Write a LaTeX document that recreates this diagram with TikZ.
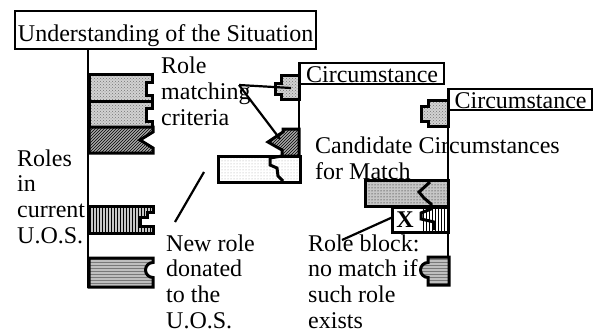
\documentclass[tikz,border=0pt]{standalone}
\usepackage{fontspec}
\setmainfont{Liberation Serif}
\usetikzlibrary{patterns}

\begin{document}
\begin{tikzpicture}[x=1pt,y=-1pt,
  txt/.style={font=\fontsize{24}{25.6}\selectfont, inner sep=0pt},
  lbl/.style={txt, anchor=base west, align=left},
  framebox/.style={txt, draw, line width=2.2pt, anchor=north west},
  spine/.style={line width=2.2pt},
  conn/.style={line width=2.2pt},
  edge/.style={draw, line width=3pt, line join=miter},
  lightdots/.style={edge, preaction={fill=gray!35}, pattern=crosshatch dots, pattern color=gray!90!black},
  sparsedots/.style={edge, preaction={fill=white}, pattern=dots, pattern color=gray!70},
  darkhatch/.style={edge, preaction={fill=gray!70}, pattern=north east lines, pattern color=black},
  vstripes/.style={edge, preaction={fill=gray!45}, pattern=vertical lines, pattern color=black},
  hdashes/.style={edge, preaction={fill=gray!50}, pattern=horizontal lines, pattern color=gray!95!black},
  polka/.style={edge, preaction={fill=gray!45}, pattern=dots, pattern color=black},
]
\useasboundingbox (0,0) rectangle (598,332);

% ---- Understanding of the Situation -------------------------------
\node[framebox, minimum width=301pt, text height=30.5pt, text depth=7.5pt]
  (title) at (14,9.5) {Understanding of the Situation};
\coordinate (spinetop) at (88,48);
\coordinate (spinebot) at (88,288);
\draw[spine] (spinetop) -- (spinebot);

% roles held in the current U.O.S.
\path[lightdots] (89,74) -- (152,74) -- (152,82) -- (146,82) -- (146,95)
  -- (152,95) -- (152,101) -- (89,101) -- cycle;
\path[lightdots] (89,101) -- (152,101) -- (152,108) -- (146,108) -- (146,121)
  -- (152,121) -- (152,127) -- (89,127) -- cycle;
\path[darkhatch] (89,127) -- (153,127) -- (153,132) -- (140,140) -- (153,148)
  -- (153,153) -- (89,153) -- cycle;
\path[vstripes] (89,206) -- (153,206) -- (153,212) -- (147,212) -- (147,217)
  -- (140,217) -- (140,226) -- (153,226) -- (153,233) -- (89,233) -- cycle;
\path[hdashes] (89,258) -- (153,258) -- (153,262.5) arc (270:90:7.5)
  -- (153,287) -- (89,287) -- cycle;

% multi-line labels are placed by the baseline of their last line
\node[lbl] (roles) at (17,243) {Roles\\in\\current\\U.O.S.};
\node[lbl] (rmc) at (161,125) {Role\\matching\\criteria};

% ---- first circumstance ---------------------------------------------
\node[framebox, minimum width=144pt, text height=19pt, text depth=2pt]
  (circ1) at (299,62) {Circumstance};
\coordinate (c1top) at (299,62);
\coordinate (c1bot) at (299,182);
\draw[spine] (c1top) -- (c1bot);

\path[lightdots] (299,75) -- (281,75) -- (281,83) -- (275,83) -- (275,94)
  -- (281,94) -- (281,99) -- (299,99) -- cycle;
\path[darkhatch] (299,129) -- (283,129) -- (283,132) -- (268,142) -- (282,150)
  -- (282,156) -- (299,156) -- cycle;

% new role donated to the U.O.S.
\path[sparsedots] (218,156) rectangle (300,182);
\draw[line width=3pt, line join=miter] (282,156) -- (270,158) -- (270,165)
  -- (277,168) -- (278,176) -- (283,181);

\node[lbl] (cand) at (315,179) {Candidate Circumstances\\for Match};

% ---- second circumstance --------------------------------------------
\node[framebox, minimum width=143pt, text height=19pt, text depth=2pt]
  (circ2) at (448,88) {Circumstance};
\coordinate (c2top) at (448,88);
\coordinate (c2bot) at (448,285);
\draw[spine] (c2top) -- (c2bot);

\path[lightdots] (448,100) -- (428,100) -- (428,106) -- (421,106) -- (421,121)
  -- (428,121) -- (428,126) -- (448,126) -- cycle;
\path[polka] (365,180) rectangle (448,206);
\path[edge, fill=white] (392,207) rectangle (448,232);
\path[pattern=vertical lines, pattern color=black] (422,208) rectangle (447,231);
\draw[line width=3pt, line join=miter] (430,182) -- (419,192) -- (424,198)
  -- (431,204) -- (431,209) -- (421,213) -- (421,219) -- (434,222) -- (434,230);
\node[txt, font=\fontsize{24}{25.6}\selectfont\bfseries] (xmark) at (405,220) {X};
\path[hdashes] (449,257) -- (428,257) -- (428,262.5) arc (270:90:7.5)
  -- (428,285) -- (449,285) -- cycle;

% ---- callouts -------------------------------------------------------
\node[lbl] (newrole) at (166,328) {New role\\donated\\to the\\U.O.S.};
\node[lbl] (roleblock) at (308,328) {Role block:\\no match if\\such role\\exists};

\coordinate (m0) at (239,85);
\coordinate (m1) at (291,88);
\coordinate (m2) at (280,139);
\draw[conn] (m0) -- (m1);
\draw[conn] (m0) -- (m2);

\coordinate (n0) at (175,222);
\coordinate (n1) at (204,172);
\draw[conn] (n0) -- (n1);

\coordinate (r0) at (342,240);
\coordinate (r1) at (393,217);
\draw[conn] (r0) -- (r1);
\end{tikzpicture}
\end{document}
